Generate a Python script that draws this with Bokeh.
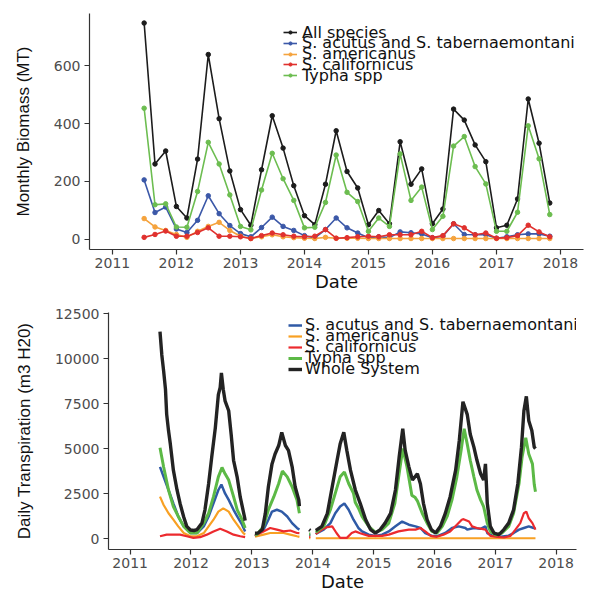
from datetime import datetime, timedelta
from bokeh.plotting import figure
from bokeh.models import Range1d, FixedTicker, DatetimeTickFormatter, Legend, LegendItem
from bokeh.embed import file_html
from bokeh.resources import INLINE

nan = float("nan")

# ---------------- Top panel: monthly biomass (MT) ----------------
bio_months = ["2011-07", "2011-09", "2011-11",
              "2012-01", "2012-03", "2012-05", "2012-07", "2012-09", "2012-11",
              "2013-01", "2013-03", "2013-05", "2013-07", "2013-09", "2013-11",
              "2014-01", "2014-03", "2014-05", "2014-07", "2014-09", "2014-11",
              "2015-01", "2015-03", "2015-05", "2015-07", "2015-09", "2015-11",
              "2016-01", "2016-03", "2016-05", "2016-07", "2016-09", "2016-11",
              "2017-01", "2017-03", "2017-05", "2017-07", "2017-09", "2017-11"]
all_species = [748, 260, 305, 113, 73, 277, 639, 417, 236, 102, 48, 240, 427, 315, 185,
               81, 50, 190, 375, 234, 177, 50, 99, 53, 337, 190, 243,
               53, 104, 450, 412, 326, 268, 39, 48, 139, 485, 332, 125]
acutus_bio = [205, 92, 111, 35, 23, 65, 150, 88, 47, 19, 8, 40, 76, 44, 30,
              12, 4, 33, 73, 39, 21, 5, 8, 5, 25, 22, 18,
              5, 10, 53, 16, 15, 15, 3, 8, 15, 18, 18, 10]
americanus_bio = [71, 42, 30, 16, 6, 27, 44, 58, 30, 10, 2, 8, 15, 8, 5,
                  3, 2, 6, 3, 3, 3, 2, 2, 2, 2, 2, 2,
                  2, 2, 2, 2, 2, 2, 2, 2, 2, 2, 2, 2]
californicus_bio = [6, 16, 28, 10, 10, 23, 39, 10, 10, 8, 2, 12, 21, 15, 10,
                    8, 10, 33, 3, 5, 8, 10, 8, 15, 15, 15, 27,
                    5, 12, 53, 39, 15, 21, 3, 5, 12, 48, 25, 8]
typha_bio = [453, 119, 122, 42, 41, 165, 335, 260, 153, 44, 32, 170, 297, 209, 134,
             39, 41, 127, 291, 162, 130, 27, 73, 44, 295, 134, 180,
             33, 79, 322, 355, 251, 191, 27, 27, 93, 392, 278, 85]

# ---------------- Bottom panel: daily transpiration (m3 H20), decimal years ----------------
whole_t = [2011.49, 2011.52, 2011.55, 2011.58, 2011.60, 2011.63, 2011.66, 2011.71, 2011.77, 2011.82,
           2011.88, 2011.93, 2011.99, 2012.05, 2012.10, 2012.18, 2012.23, 2012.29, 2012.34, 2012.40,
           2012.45, 2012.48, 2012.50, 2012.53, 2012.56, 2012.62, 2012.66, 2012.70, 2012.76, 2012.81,
           2012.88, 2012.89, 2012.97,
           2013.05, 2013.10, 2013.17, 2013.22, 2013.27, 2013.33, 2013.38, 2013.44, 2013.49, 2013.55,
           2013.60, 2013.66, 2013.71, 2013.77, 2013.78, 2013.86,
           2013.94, 2013.96, 2014.01,
           2014.05, 2014.07, 2014.15, 2014.24, 2014.32, 2014.40, 2014.45, 2014.51, 2014.56, 2014.62,
           2014.70, 2014.78, 2014.87, 2014.95, 2015.03, 2015.11, 2015.19, 2015.28, 2015.36, 2015.42,
           2015.48, 2015.52, 2015.58, 2015.64, 2015.72, 2015.77, 2015.82, 2015.88, 2015.95, 2016.02,
           2016.10, 2016.18, 2016.26, 2016.35, 2016.41, 2016.47, 2016.54, 2016.59, 2016.65, 2016.70,
           2016.76, 2016.81, 2016.84, 2016.87, 2016.92, 2016.98, 2017.06, 2017.14, 2017.22, 2017.30,
           2017.37, 2017.43, 2017.47, 2017.51, 2017.55, 2017.60, 2017.64, 2017.66]
whole_v = [11500, 10200, 9300, 8300, 6900, 6000, 5250, 3800, 2700, 1950,
           1200, 680, 480, 450, 500, 860, 1600, 3050, 4500, 6150,
           8000, 8400, 9200, 8300, 7650, 7100, 5800, 4350, 3400, 2300,
           1200, 1000, nan,
           300, 310, 500, 1400, 2880, 4150, 4700, 5170, 5900, 5170,
           4900, 4000, 2880, 2150, 1800, nan,
           500, 450, nan,
           450, 495, 680, 1400, 2880, 4350, 5250, 5900, 4900, 3800,
           2700, 1960, 1050, 500, 310, 500, 860, 1400, 2700, 4500,
           6100, 4900, 4000, 3250, 3600, 3050, 1960, 1050, 500, 310,
           680, 1400, 2330, 3800, 5450, 7600, 6900, 5800, 5080, 4350,
           3600, 3250, 4150, 1960, 680, 310, 220, 500, 860, 1600,
           3050, 5080, 7100, 7900, 6550, 6000, 5080, 5000]

typha_t = [2011.49, 2011.55, 2011.63, 2011.71, 2011.79, 2011.88, 2011.99, 2012.10, 2012.21, 2012.29,
           2012.37, 2012.45, 2012.51, 2012.56, 2012.62, 2012.70, 2012.76, 2012.84, 2012.89, 2012.97,
           2013.05, 2013.08, 2013.19, 2013.27, 2013.36, 2013.44, 2013.50, 2013.58, 2013.66, 2013.74,
           2013.78, 2013.86,
           2013.94, 2013.96, 2014.01,
           2014.05, 2014.07, 2014.18, 2014.29, 2014.37, 2014.45, 2014.52, 2014.59, 2014.67, 2014.70,
           2014.75, 2014.81, 2014.92, 2015.03, 2015.14, 2015.25, 2015.35, 2015.42, 2015.48, 2015.55,
           2015.63, 2015.68, 2015.72, 2015.80, 2015.88, 2015.96, 2016.04, 2016.13, 2016.21, 2016.29,
           2016.37, 2016.44, 2016.49, 2016.54, 2016.59, 2016.65, 2016.70, 2016.76, 2016.81, 2016.87,
           2016.92, 2017.01, 2017.11, 2017.22, 2017.30, 2017.39, 2017.44, 2017.50, 2017.55, 2017.61,
           2017.64, 2017.66]
typha_v = [5050, 3980, 2700, 1780, 1230, 680, 310, 310, 860, 1410,
           2330, 3430, 3950, 3600, 3250, 2330, 1600, 1050, 590, nan,
           200, 220, 680, 1600, 2330, 3060, 3750, 3430, 2880, 2150,
           1410, nan,
           250, 250, nan,
           350, 400, 680, 1600, 2510, 3430, 3700, 3060, 2510, 2000,
           1700, 1230, 680, 350, 500, 860, 1960, 3600, 5000, 3980,
           2400, 2300, 2100, 1410, 860, 400, 300, 680, 1230, 2150,
           3430, 4900, 6100, 5260, 4350, 3430, 2700, 2150, 1780, 860,
           400, 200, 310, 680, 1410, 3060, 4530, 5600, 4700, 4150,
           3000, 2600]

acutus_t = [2011.49, 2011.55, 2011.63, 2011.71, 2011.79, 2011.88, 2011.99, 2012.10, 2012.21, 2012.29,
            2012.37, 2012.45, 2012.50, 2012.56, 2012.62, 2012.70, 2012.76, 2012.84, 2012.89, 2012.97,
            2013.05, 2013.08, 2013.19, 2013.27, 2013.33, 2013.41, 2013.49, 2013.58, 2013.66, 2013.74,
            2013.78, 2013.86,
            2013.94, 2013.96, 2014.01,
            2014.05, 2014.07, 2014.18, 2014.29, 2014.37, 2014.45, 2014.52, 2014.59, 2014.67, 2014.75,
            2014.81, 2014.92, 2015.03, 2015.14, 2015.25, 2015.36, 2015.47, 2015.58, 2015.69, 2015.77,
            2015.85, 2015.96, 2016.06, 2016.18, 2016.29, 2016.40, 2016.51, 2016.54, 2016.65, 2016.76,
            2016.84, 2016.87, 2016.95, 2017.09, 2017.22, 2017.30, 2017.39, 2017.47, 2017.55, 2017.63,
            2017.66]
acutus_v = [3980, 3430, 2700, 1960, 1230, 680, 310, 310, 680, 1230,
            1960, 2700, 3000, 2510, 2150, 1600, 1230, 770, 400, nan,
            150, 220, 500, 1050, 1500, 1600, 1500, 1230, 860, 590,
            500, nan,
            200, 200, nan,
            250, 310, 500, 860, 1410, 1780, 1950, 1600, 1050, 590,
            400, 220, 150, 220, 400, 680, 950, 770, 680, 590,
            310, 150, 150, 310, 590, 680, 590, 500, 590, 540,
            680, 310, 165, 110, 165, 310, 500, 590, 680, 590,
            580]

americanus_t = [2011.49, 2011.55, 2011.63, 2011.71, 2011.79, 2011.88, 2011.99, 2012.10, 2012.21, 2012.29,
                2012.37, 2012.45, 2012.53, 2012.62, 2012.70, 2012.78, 2012.86, 2012.89, 2012.97,
                2013.05, 2013.08, 2013.19, 2013.30, 2013.41, 2013.52, 2013.63, 2013.74, 2013.78, 2013.86,
                2013.94, 2013.96, 2014.01,
                2014.05, 2015.00, 2016.00, 2017.00, 2017.66]
americanus_v = [2330, 1870, 1410, 1050, 680, 310, 130, 130, 310, 680,
                1050, 1500, 1680, 1500, 1050, 680, 310, 220, nan,
                100, 130, 220, 310, 310, 310, 220, 130, 100, nan,
                30, 30, nan,
                20, 20, 20, 20, 20]

californicus_t = [2011.49, 2011.60, 2011.71, 2011.82, 2011.93, 2012.04, 2012.15, 2012.26, 2012.37, 2012.48,
                  2012.59, 2012.70, 2012.81, 2012.89, 2012.97,
                  2013.05, 2013.08, 2013.19, 2013.30, 2013.41, 2013.52, 2013.63, 2013.74, 2013.78, 2013.86,
                  2013.94, 2013.96, 2014.01,
                  2014.05, 2014.07, 2014.15, 2014.24, 2014.32, 2014.39, 2014.45, 2014.56, 2014.64, 2014.70,
                  2014.78, 2014.92, 2015.14, 2015.25, 2015.41, 2015.58, 2015.69, 2015.77, 2015.85, 2015.94,
                  2016.04, 2016.15, 2016.26, 2016.37, 2016.45, 2016.48, 2016.57, 2016.62, 2016.70, 2016.78,
                  2016.84, 2016.92, 2017.03, 2017.14, 2017.25, 2017.33, 2017.41, 2017.47, 2017.51, 2017.55,
                  2017.61, 2017.66]
californicus_v = [130, 220, 220, 220, 130, 40, 80, 220, 400, 550,
                  400, 220, 130, 80, nan,
                  150, 220, 400, 590, 500, 400, 450, 310, 300, nan,
                  100, 100, nan,
                  250, 310, 500, 640, 680, 310, 40, 40, 310, 400,
                  300, 150, 150, 220, 400, 500, 500, 590, 400, 150,
                  100, 220, 400, 770, 1050, 1080, 950, 680, 590, 540,
                  500, 150, 100, 60, 150, 500, 860, 1410, 1500, 1130,
                  860, 500]


def to_date(y):
    if isinstance(y, str):
        return datetime.strptime(y + "-01", "%Y-%m-%d")
    yr = int(y)
    return datetime(yr, 1, 1) + timedelta(days=(y - yr) * 365.25)


year_ticks = [datetime(y, 1, 1).timestamp() * 1000 for y in range(2011, 2019)]
fmt = DatetimeTickFormatter(years="%Y", months="%Y", days="%Y", hours="%Y",
                            minutes="%Y", seconds="%Y", milliseconds="%Y", minsec="%Y", hourmin="%Y")

TICK_FONT = "DejaVu Sans"


def style(p, ylabel, yticks, ylabel_standoff):
    p.outline_line_color = None
    p.grid.grid_line_color = None
    p.xaxis.ticker = FixedTicker(ticks=year_ticks)
    p.xaxis.formatter = fmt
    p.yaxis.ticker = FixedTicker(ticks=yticks)
    for ax in (p.xaxis[0], p.yaxis[0]):
        ax.axis_line_color = "#333333"
        ax.axis_line_width = 1.2
        ax.major_tick_line_color = "#333333"
        ax.major_tick_line_width = 1.2
        ax.major_tick_out = 5
        ax.major_tick_in = 0
        ax.minor_tick_line_color = None
        ax.major_label_text_font = TICK_FONT
        ax.major_label_text_font_size = "14px"
        ax.major_label_text_color = "#4d4d4d"
        ax.axis_label_text_font_style = "normal"
        ax.axis_label_text_color = "#111111"
    p.xaxis.major_label_standoff = 3
    p.yaxis.major_label_standoff = 4
    p.xaxis.axis_label = "Date"
    p.xaxis.axis_label_text_font = TICK_FONT
    p.xaxis.axis_label_text_font_size = "18px"
    p.xaxis.axis_label_standoff = 0
    p.yaxis.axis_label = ylabel
    p.yaxis.axis_label_text_font = "Liberation Sans"
    p.yaxis.axis_label_text_font_size = "17px"
    p.yaxis.axis_label_standoff = ylabel_standoff


def add_legend_rows(p, entries, x, ys, standoff):
    # one single-row legend per entry, to reproduce the tightly packed key
    for (label, rends), y in zip(entries, ys):
        leg = Legend(items=[LegendItem(label=label, renderers=rends)], location=(x, y),
                     padding=0, spacing=0, margin=0,
                     glyph_width=14, glyph_height=8, label_height=8, label_standoff=standoff,
                     label_text_font=TICK_FONT, label_text_font_size="16px",
                     label_text_color="#111111", border_line_color=None,
                     background_fill_alpha=0)
        p.add_layout(leg)


# ---- top figure ----
p1 = figure(width=592, height=303, output_backend="svg", toolbar_location=None,
            x_axis_type="datetime",
            x_range=Range1d(to_date(2010.641), to_date(2018.36)),
            y_range=Range1d(-36, 781),
            min_border_left=89, min_border_right=9, min_border_top=13, min_border_bottom=54)
style(p1, "Monthly Biomass (MT)", [0, 200, 400, 600], 18)

bio_dates = [to_date(m) for m in bio_months]
top_series = [
    ("All species", all_species, "#1c1c1c"),
    ("S. acutus and S. tabernaemontani", acutus_bio, "#3b58a8"),
    ("S. americanus", americanus_bio, "#f5a33d"),
    ("S. californicus", californicus_bio, "#e0312e"),
    ("Typha spp", typha_bio, "#6cbd50"),
]
entries1 = []
for name, vals, col in top_series:
    l = p1.line(bio_dates, vals, line_color=col, line_width=1.6)
    s = p1.scatter(bio_dates, vals, size=4.5, fill_color=col, line_color=col)
    entries1.append((name, [l, s]))
add_legend_rows(p1, entries1, 194, [207.5, 196.7, 185.9, 175.1, 164.3], 5)

# ---- bottom figure ----
p2 = figure(width=592, height=300, output_backend="svg", toolbar_location=None,
            x_axis_type="datetime",
            x_range=Range1d(to_date(2010.643), to_date(2018.335)),
            y_range=Range1d(-605, 12557),
            min_border_left=108, min_border_right=16, min_border_top=9, min_border_bottom=54)
style(p2, "Daily Transpiration (m3 H20)", [0, 2500, 5000, 7500, 10000, 12500], 18)

bottom_series = [
    ("S. acutus and S. tabernaemontani", acutus_t, acutus_v, "#2f5aa6", 2.5),
    ("S. americanus", americanus_t, americanus_v, "#f8a023", 2.2),
    ("S. californicus", californicus_t, californicus_v, "#ec2a2e", 2.2),
    ("Typha spp", typha_t, typha_v, "#5cb946", 3.0),
    ("Whole System", whole_t, whole_v, "#232323", 3.4),
]
entries2 = []
for name, ts, vs, col, lw in bottom_series:
    r = p2.line([to_date(t) for t in ts], vs, line_color=col, line_width=lw)
    entries2.append((name, [r]))
add_legend_rows(p2, entries2, 180, [215, 204, 193, 182, 171], 3)

open("out.html", "w").write(file_html([p1, p2], INLINE))
